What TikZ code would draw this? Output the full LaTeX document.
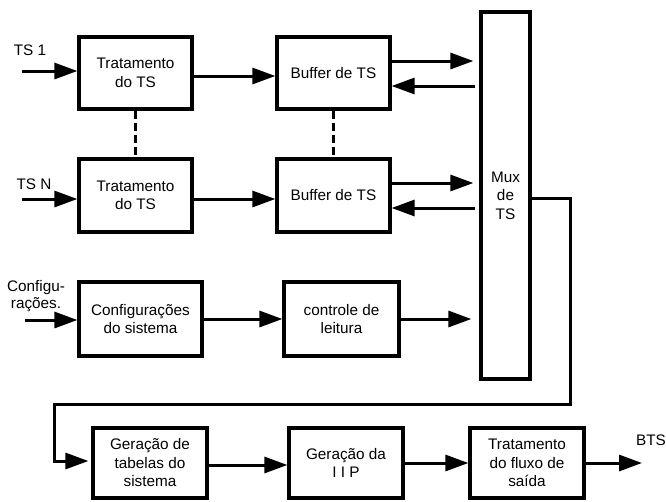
\documentclass[tikz,border=0pt]{standalone}
\usepackage{fontspec}
\setmainfont{Liberation Sans}
\usetikzlibrary{arrows.meta}
\begin{document}
\begin{tikzpicture}[x=1pt,y=-1pt,
  blk/.style={draw,line width=3.2pt,rectangle,align=center,font=\fontsize{15.3}{18.5}\selectfont,inner sep=0pt},
  lbl/.style={align=center,font=\fontsize{15.3}{17}\selectfont,inner sep=0pt},
  con/.style={line width=3pt,-{Triangle[length=23pt,width=16pt]}},
  dsh/.style={line width=3pt,dash pattern=on 8pt off 4pt}
]
\useasboundingbox (0,0) rectangle (666,501);
\node[blk,minimum width=113pt,minimum height=72pt] (t1) at (135.5,73) {Tratamento\\do TS};
\node[blk,minimum width=113pt,minimum height=73pt] (tN) at (135.5,195.5) {Tratamento\\do TS};
\node[blk,minimum width=113pt,minimum height=72pt] (b1) at (333.5,73) {Buffer de TS};
\node[blk,minimum width=113pt,minimum height=73pt] (bN) at (333.5,195.5) {Buffer de TS};
\node[blk,minimum width=49pt,minimum height=367pt] (mux) at (505.5,195.5) {Mux\\de\\TS};
\node[blk,minimum width=123pt,minimum height=74pt] (cfg) at (140.5,319) {Configurações\\do sistema};
\node[blk,minimum width=115pt,minimum height=74pt] (ctl) at (341.5,319) {controle de\\leitura};
\node[blk,minimum width=114pt,minimum height=70pt] (gt) at (150,463) {Geração de\\tabelas do\\sistema};
\node[blk,minimum width=114pt,minimum height=70pt] (gi) at (346,463) {Geração da\\I I P};
\node[blk,minimum width=114pt,minimum height=70pt] (tf) at (527,463) {Tratamento\\do fluxo de\\saída};

\node[lbl] (l1) at (30,50) {TS 1};
\node[lbl] (lN) at (34,184) {TS N};
\node[lbl] (lc) at (36,296) {Configu-\\rações.};
\node[lbl] (lb) at (651,440) {BTS};

\coordinate (in1) at (22,71);
\coordinate (inN) at (22,199);
\coordinate (inc) at (25,320);
\coordinate (out) at (642,463);
\coordinate (p1) at (570,198);
\coordinate (p2) at (570,404);
\coordinate (p3) at (54,404);
\coordinate (p4) at (54,461);

\draw[con] (in1) -- (in1 -| t1.west);
\draw[con] (inN) -- (inN -| tN.west);
\draw[con] (inc) -- (inc -| cfg.west);
\draw[con] ([yshift=-3pt]t1.east) -- ([yshift=-3pt]b1.west);
\draw[con] ([yshift=-3.5pt]tN.east) -- ([yshift=-3.5pt]bN.west);
\draw[dsh] (t1.south) -- (tN.north);
\draw[dsh] (b1.south) -- (bN.north);

\draw[con,shorten >=6pt] ([yshift=12pt]b1.east) -- ([yshift=12pt]b1.east -| mux.west);
\draw[con,shorten <=4pt] ([yshift=-13pt]b1.east -| mux.west) -- ([yshift=-13pt]b1.east);
\draw[con,shorten >=6pt] ([yshift=12.5pt]bN.east) -- ([yshift=12.5pt]bN.east -| mux.west);
\draw[con,shorten <=4pt] ([yshift=-12.5pt]bN.east -| mux.west) -- ([yshift=-12.5pt]bN.east);

\draw[con] (cfg.east) -- (ctl.west);
\draw[con,shorten >=8pt] (ctl.east) -- (ctl.east -| mux.west);

\draw[con,shorten >=3pt] (mux.east |- p1) -- (p1) -- (p2) -- (p3) -- (p4) -- (p4 -| gt.west);
\draw[con] ([yshift=-2pt]gt.east) -- ([yshift=-2pt]gi.west);
\draw[con] (gi.east) -- (tf.west);
\draw[con] (tf.east) -- (out);
\end{tikzpicture}
\end{document}
